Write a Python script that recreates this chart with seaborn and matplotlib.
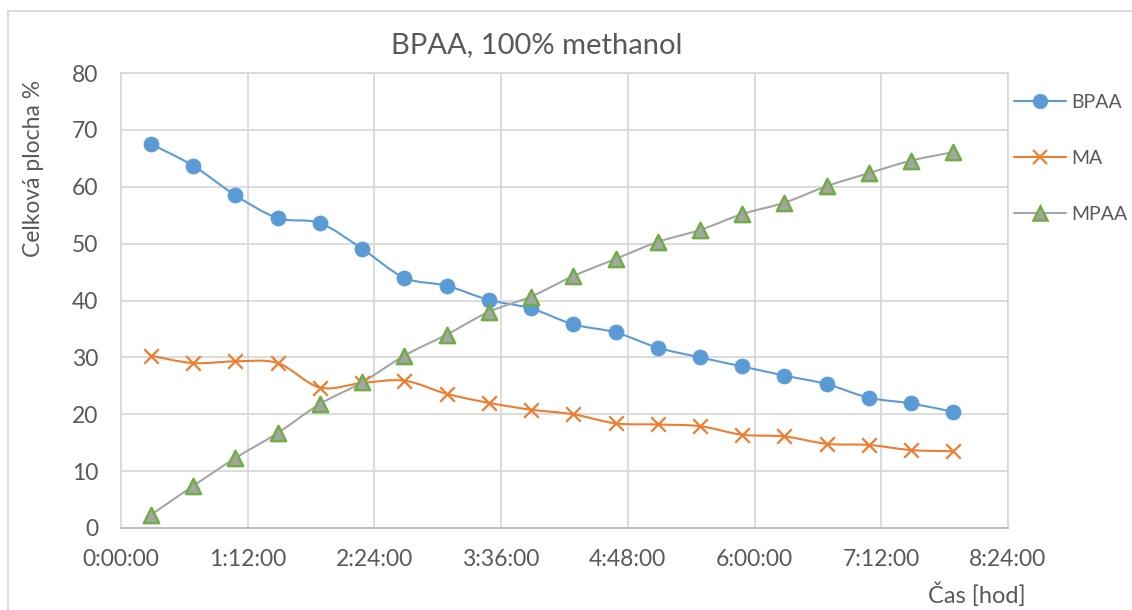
import numpy as np
import pandas as pd
import matplotlib
matplotlib.use("Agg")
import matplotlib.pyplot as plt
from matplotlib.path import Path
from matplotlib.patches import PathPatch, Rectangle
from matplotlib.lines import Line2D
import seaborn as sns

# Sampling times in minutes from start
time_min = [17, 41, 65, 89, 113, 137, 161, 185, 209, 233,
            257, 281, 305, 329, 353, 377, 401, 425, 449, 473]

bpaa = [67.5, 63.7, 58.5, 54.5, 53.6, 49.1, 44.0, 42.6, 40.1, 38.6,
        35.8, 34.4, 31.7, 30.0, 28.4, 26.8, 25.3, 22.9, 21.9, 20.4]
ma = [30.3, 29.0, 29.3, 29.0, 24.7, 25.5, 25.9, 23.6, 22.0, 20.8,
      20.0, 18.4, 18.2, 17.9, 16.4, 16.1, 14.8, 14.6, 13.7, 13.5]
mpaa = [2.3, 7.4, 12.3, 16.7, 21.8, 25.6, 30.3, 34.0, 38.0, 40.7,
        44.3, 47.3, 50.3, 52.4, 55.2, 57.2, 60.1, 62.4, 64.6, 66.1]

series_names = ["BPAA", "MA", "MPAA"]
x_ticks_min = [0, 72, 144, 216, 288, 360, 432, 504]
y_ticks = [0, 10, 20, 30, 40, 50, 60, 70, 80]

title = "BPAA, 100% methanol"
y_label = "Celková plocha %"
x_label = "Čas [hod]"

TEXT = "#595959"
GRID = "#D9D9D9"
styles = {
    "BPAA": dict(color="#5B9BD5", marker="o", face="#5B9BD5", edge="#5B9BD5", size=118, lw_m=0.5),
    "MA": dict(color="#ED7D31", marker="x", face="#ED7D31", edge="#ED7D31", size=110, lw_m=1.6),
    "MPAA": dict(color="#A5A5A5", marker="^", face="#A5A5A5", edge="#70AD47", size=120, lw_m=1.8),
}

df = pd.DataFrame({"time": time_min * 3,
                   "value": bpaa + ma + mpaa,
                   "series": sum([[n] * len(time_min) for n in series_names], [])})

sns.set_theme(style="white")
plt.rcParams["font.family"] = ["Lato", "DejaVu Sans"]

fig = plt.figure(figsize=(11.32, 6.10), dpi=100)
ax = fig.add_axes([121 / 1132, 1 - 528 / 610, (1008 - 121) / 1132, (528 - 73) / 610])


def smooth_path(xs, ys):
    """Catmull-Rom style cubic Bezier through the points (like spreadsheet smoothing)."""
    xs = np.asarray(xs, float)
    ys = np.asarray(ys, float)
    pts = np.column_stack([xs, ys])
    verts = [pts[0]]
    codes = [Path.MOVETO]
    n = len(pts)
    for i in range(n - 1):
        p0 = pts[i - 1] if i > 0 else pts[i]
        p1 = pts[i]
        p2 = pts[i + 1]
        p3 = pts[i + 2] if i + 2 < n else pts[i + 1]
        c1 = p1 + (p2 - p0) / 6.0
        c2 = p2 - (p3 - p1) / 6.0
        verts += [c1, c2, p2]
        codes += [Path.CURVE4] * 3
    return Path(verts, codes)


for name in series_names:
    st = styles[name]
    sub = df[df["series"] == name]
    ax.add_patch(PathPatch(smooth_path(sub["time"], sub["value"]), facecolor="none",
                           edgecolor=st["color"], lw=1.5, zorder=3))

for name in series_names:
    st = styles[name]
    sub = df[df["series"] == name]
    if st["marker"] == "x":
        sns.scatterplot(data=sub, x="time", y="value", marker="x", s=st["size"],
                        color=st["color"], linewidth=st["lw_m"], ax=ax, zorder=4, legend=False)
    else:
        sns.scatterplot(data=sub, x="time", y="value", marker=st["marker"], s=st["size"],
                        color=st["face"], edgecolor=st["edge"], linewidth=st["lw_m"],
                        ax=ax, zorder=4, legend=False)

ax.set_xlim(0, 504)
ax.set_ylim(0, 80)
ax.set_xticks(x_ticks_min)
ax.set_xticklabels([f"{m // 60}:{m % 60:02d}:00" for m in x_ticks_min])
ax.set_yticks(y_ticks)
ax.set_yticklabels([str(v) for v in y_ticks])
ax.grid(True, color=GRID, lw=1.3)
ax.set_axisbelow(True)
ax.tick_params(axis="both", length=0, labelsize=16.5, colors=TEXT)
ax.tick_params(axis="y", pad=16.5)
ax.tick_params(axis="x", pad=15)
ax.set_xlabel("")
ax.set_ylabel("")
for side in ["top", "right", "left"]:
    ax.spines[side].set_color(GRID)
    ax.spines[side].set_linewidth(1.3)
ax.spines["bottom"].set_color("#BFBFBF")
ax.spines["bottom"].set_linewidth(1.4)

fig.text(537 / 1132, 1 - 45 / 610, title, ha="center", va="center", fontsize=21, color=TEXT)
fig.text(34 / 1132, 1 - 168 / 610, y_label, ha="center", va="center", rotation=90,
         fontsize=16.5, color=TEXT)
fig.text(977 / 1132, 1 - 595 / 610, x_label, ha="center", va="center", fontsize=17, color=TEXT)

handles = []
for name in series_names:
    st = styles[name]
    handles.append(Line2D([0], [0], color=st["color"], lw=1.5, marker=st["marker"],
                          markersize=10.5, markerfacecolor=st["face"],
                          markeredgecolor=st["edge"], markeredgewidth=st["lw_m"]))
leg = fig.legend(handles, series_names, loc="upper left",
                 bbox_to_anchor=(1006 / 1132, 1 - 86 / 610), frameon=False,
                 fontsize=14, labelspacing=2.0, handlelength=2.7, handletextpad=0.25,
                 borderaxespad=0)
for t in leg.get_texts():
    t.set_color(TEXT)

fig.add_artist(Rectangle((8 / 1132, -0.05), 1.2, 1 - 11 / 610 + 0.05, transform=fig.transFigure,
                         facecolor="none", edgecolor="#D9D9D9", lw=1.3))

fig.savefig("out.png", dpi=100, facecolor="white")
